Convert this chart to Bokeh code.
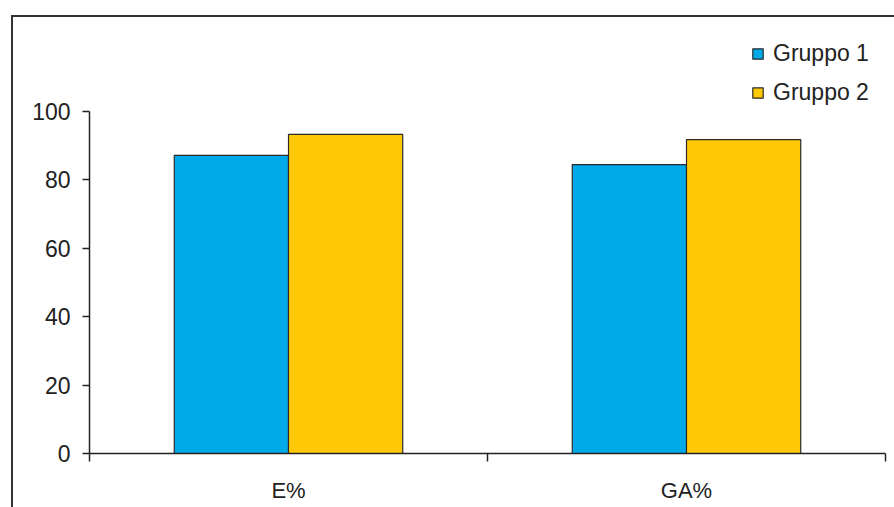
from bokeh.plotting import figure
from bokeh.models import ColumnDataSource, Range1d, FixedTicker, Legend, LegendItem
from bokeh.transform import dodge
from bokeh.embed import file_html
from bokeh.resources import INLINE

categories = ["E%", "GA%"]
gruppo1 = [87.2, 84.5]
gruppo2 = [93.3, 91.8]
series_names = ["Gruppo 1", "Gruppo 2"]
y_ticks = [0, 20, 40, 60, 80, 100]

FONT = "Liberation Sans"
TXT = "#222222"
BLUE = "#00AAE8"
YELLOW = "#FFCA05"
BAR_W = 0.287

centers = [i + 0.5 for i in range(len(categories))]
src = ColumnDataSource(dict(x=centers, cat=categories, g1=gruppo1, g2=gruppo2))

p = figure(width=883, height=492, output_backend="svg", toolbar_location=None,
           x_range=Range1d(0, len(categories)), y_range=Range1d(0, 127.5),
           min_border_left=76, min_border_top=0, min_border_right=11, min_border_bottom=56,
           margin=(15, 0, 0, 11))
p.styles = {"border-top": "2px solid #333333", "border-left": "2px solid #333333",
            "box-sizing": "border-box"}
p.outline_line_color = None
p.grid.visible = False
p.background_fill_color = "white"
p.border_fill_color = "white"

r1 = p.vbar(x=dodge("x", -BAR_W / 2, range=p.x_range), top="g1", width=BAR_W, source=src,
            fill_color=BLUE, line_color="#2a2a2a", line_width=1.2)
r2 = p.vbar(x=dodge("x", BAR_W / 2, range=p.x_range), top="g2", width=BAR_W, source=src,
            fill_color=YELLOW, line_color="#2a2a2a", line_width=1.2)

# x axis: category labels at centres, tick marks at boundaries
xa = p.xaxis[0]
xa.ticker = FixedTicker(ticks=centers, minor_ticks=list(range(len(categories) + 1)))
xa.major_label_overrides = {c: lab for c, lab in zip(centers, categories)}
xa.major_tick_line_color = None
xa.major_tick_out = 0
xa.major_tick_in = 0
xa.minor_tick_out = 8
xa.minor_tick_in = 0
xa.minor_tick_line_color = "#222222"
xa.minor_tick_line_width = 1.5
xa.axis_line_color = "#222222"
xa.axis_line_width = 1.5
xa.major_label_standoff = 16
xa.major_label_text_font = FONT
xa.major_label_text_font_size = "22px"
xa.major_label_text_color = TXT

ya = p.yaxis[0]
ya.ticker = FixedTicker(ticks=y_ticks)
ya.bounds = (0, 100)
ya.minor_tick_line_color = None
ya.major_tick_out = 7
ya.major_tick_in = 0
ya.major_tick_line_color = "#222222"
ya.major_tick_line_width = 1.5
ya.axis_line_color = "#222222"
ya.axis_line_width = 1.5
ya.major_label_standoff = 12
ya.major_label_text_font = FONT
ya.major_label_text_font_size = "23px"
ya.major_label_text_color = TXT

legend = Legend(items=[LegendItem(label=series_names[0], renderers=[r1]),
                       LegendItem(label=series_names[1], renderers=[r2])],
                location=(662, 347), orientation="vertical",
                border_line_color=None, background_fill_alpha=0,
                glyph_width=13, glyph_height=13, label_height=22, spacing=12,
                label_standoff=9, padding=0, margin=0,
                label_text_font=FONT, label_text_font_size="23px",
                label_text_color=TXT)
p.add_layout(legend, "center")

open("out.html", "w").write(file_html(p, INLINE))
